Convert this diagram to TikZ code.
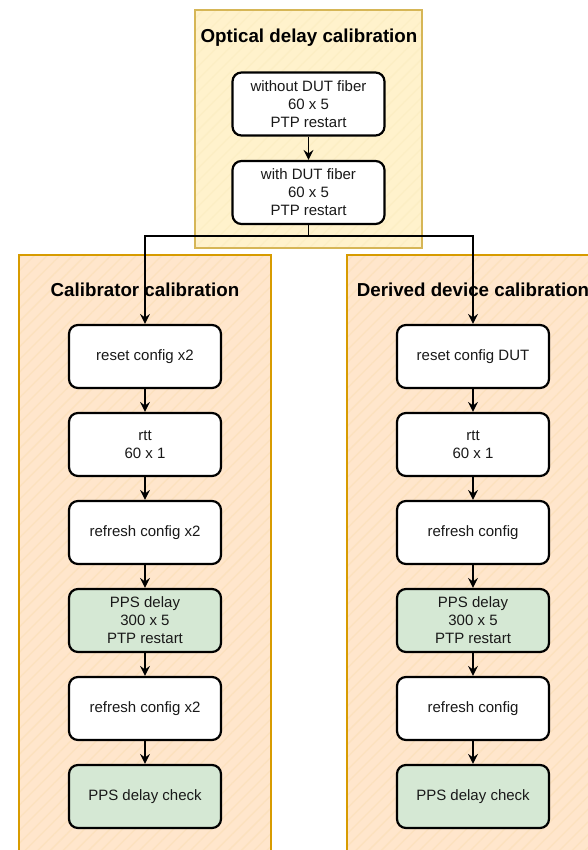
\documentclass[tikz,border=0pt]{standalone}
\usepackage{fontspec}
\setmainfont{Liberation Sans}
\usetikzlibrary{arrows.meta,patterns.meta}

\definecolor{optfill}{HTML}{FFF2CC}
\definecolor{optline}{HTML}{D6B656}
\definecolor{calfill}{HTML}{FFE6CC}
\definecolor{calline}{HTML}{D79B00}
\definecolor{passfill}{HTML}{D5E8D4}

\begin{document}
\begin{tikzpicture}
      [x=1pt,y=-1pt,
       every node/.style={font=\fontsize{15}{18}\selectfont,align=center},
       stepbox/.style={draw=black,line width=2.2pt,rounded corners=9pt,fill=white,
                       minimum width=152pt,minimum height=63pt,inner sep=0pt,text=black!90},
       passbox/.style={stepbox,fill=passfill},
       grp/.style 2 args={line width=1.2pt,inner sep=0pt,preaction={fill=#1},draw=#2,
                   pattern={Lines[angle=45,distance=9pt,line width=1.3pt]},pattern color=#2!7!#1},
       grptitle/.style={font=\bfseries\fontsize{18.75}{22}\selectfont,text=black},
       flow/.style={line width=1.5pt,-{Stealth[length=10pt,width=10pt,inset=3.5pt]}}]
	\clip (0,0) rectangle (588,850);
	\fill[white] (0,0) rectangle (588,850);

	% groups
	\node (optgrp) [grp={optfill}{optline},minimum width=227pt,minimum height=238pt] at (308.5,129) {};
	\node (calgrp) [grp={calfill}{calline},minimum width=252pt,minimum height=620pt] at (145,565) {};
	\node (dergrp) [grp={calfill}{calline},minimum width=252pt,minimum height=620pt] at (473,565) {};

	\node (opttitle) [grptitle] at (309,38)  {Optical delay calibration};
	\node (caltitle) [grptitle] at (145,290) {Calibrator calibration};
	\node (dertitle) [grptitle] at (473,290) {Derived device calibration};

	% optical delay
	\node (wo) [stepbox] at (308.5,104)   {without DUT fiber\\60 x 5\\PTP restart};
	\node (wi) [stepbox] at (308.5,192.5) {with DUT fiber\\60 x 5\\PTP restart};

	% calibrator
	\node (lreset) [stepbox] at (145,356.5) {reset config x2};
	\node (lrtt)   [stepbox] at (145,444.5) {rtt\\60 x 1};
	\node (lrefa)  [stepbox] at (145,532.5) {refresh config x2};
	\node (lpps)   [passbox] at (145,620.5) {PPS delay\\300 x 5\\PTP restart};
	\node (lrefb)  [stepbox] at (145,708.5) {refresh config x2};
	\node (lchk)   [passbox] at (145,796.5) {PPS delay check};

	% derived device
	\node (rreset) [stepbox] at (473,356.5) {reset config DUT};
	\node (rrtt)   [stepbox] at (473,444.5) {rtt\\60 x 1};
	\node (rrefa)  [stepbox] at (473,532.5) {refresh config};
	\node (rpps)   [passbox] at (473,620.5) {PPS delay\\300 x 5\\PTP restart};
	\node (rrefb)  [stepbox] at (473,708.5) {refresh config};
	\node (rchk)   [passbox] at (473,796.5) {PPS delay check};

	\foreach \from/\to in {wo/wi,lreset/lrtt,lrtt/lrefa,lrefa/lpps,lpps/lrefb,lrefb/lchk,
	                       rreset/rrtt,rrtt/rrefa,rrefa/rpps,rpps/rrefb,rrefb/rchk}
	  \draw[flow] (\from) -- (\to);

	\coordinate (split) at (308.5,236);
	\draw[line width=1.5pt] (wi) -- (split);
	\draw[flow] (split) -| (lreset);
	\draw[flow] (split) -| (rreset);
      \end{tikzpicture}
\end{document}
